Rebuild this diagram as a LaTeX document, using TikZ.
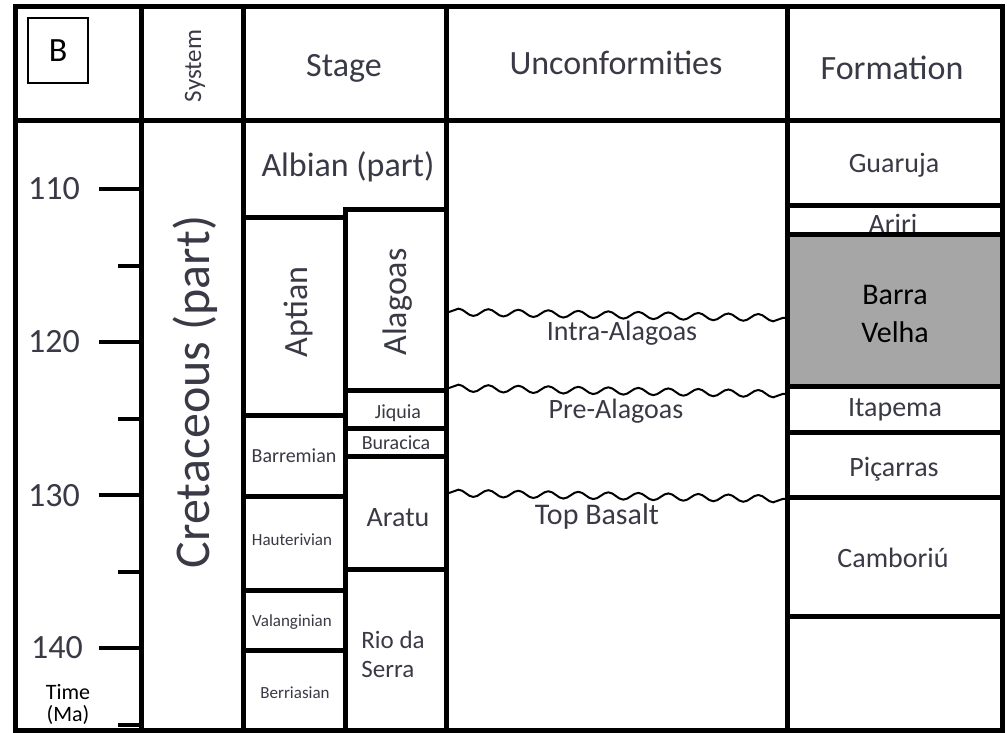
\documentclass[tikz,border=0pt]{standalone}
\usepackage{fontspec}
\setmainfont{Carlito}
\usetikzlibrary{decorations.pathmorphing}
\definecolor{txt}{RGB}{58,58,70}
\definecolor{bvgray}{RGB}{166,166,166}
\newcommand\myfs[1]{\fontsize{#1}{#1}\selectfont}
\begin{document}
\begin{tikzpicture}[x=1pt,y=-1pt,
  frame/.style={line width=5pt, line cap=rect},
  tickmark/.style={line width=4pt},
  wavy/.style={line width=2pt, decorate, decoration={snake, amplitude=3.5pt, segment length=30pt}},
  lab/.style={text=txt, inner sep=0pt, font=\myfs{#1}},
  lab/.default=34]
\useasboundingbox (0,0) rectangle (1007,733);
\fill[white] (0,0) rectangle (1007,733);
% grey formation
\fill[bvgray] (789,236) rectangle (1000,384);
% texts that lines may overlap
\node[lab=28] (ariri) at (893,223.5) {Ariri};
% outer frame and columns
\draw[frame] (15,7) rectangle (1002,730);
\draw[frame] (15,121) -- (1002,121);
\draw[frame] (141,7) -- (141,730);
\draw[frame] (243,7) -- (243,730);
\draw[frame] (446,7) -- (446,730);
\draw[frame] (787,7) -- (787,730);
% stage subdivisions
\draw[frame] (243,217) -- (345,217);
\draw[frame] (345,209) -- (446,209);
\draw[frame] (345,209) -- (345,730);
\foreach \yy in {415,496,590,650} \draw[frame] (243,\yy) -- (345,\yy);
\foreach \yy in {390,428,456,569} \draw[frame] (345,\yy) -- (446,\yy);
% formation subdivisions
\foreach \yy in {205,234,386,432,497,616} \draw[frame] (787,\yy) -- (1002,\yy);
% time ticks
\foreach \t in {110,120,130,140} \draw[tickmark] (99,{189+15.3*(\t-110)}) -- (141,{189+15.3*(\t-110)});
\foreach \t in {115,125,135,145} \draw[tickmark] (118,{189+15.3*(\t-110)}) -- (141,{189+15.3*(\t-110)});
\node[lab] (t110) at (54,189) {110};
\node[lab] (t120) at (54,342) {120};
\node[lab] (t130) at (54,496) {130};
\node[lab] (t140) at (57,648) {140};
\node[inner sep=0pt, align=center, font=\fontsize{22}{22}\selectfont] (time) at (68,704) {Time\\(Ma)};
% header
\node[draw, line width=1.3pt, minimum width=60pt, minimum height=65pt, inner sep=0pt, font=\myfs{34}] (bbox) at (58,50.5) {B};
\node[lab=25, rotate=90] (system) at (195,66) {System};
\node[lab] (stage) at (344,68) {Stage};
\node[lab] (unconf) at (616,63) {Unconformities};
\node[lab] (formation) at (892,68) {Formation};
% system
\node[lab=50, rotate=90] (cret) at (195,392) {Cretaceous (part)};
% stages
\node[lab] (albian) at (348,167) {Albian (part)};
\node[lab, rotate=90] (aptian) at (298,312) {Aptian};
\node[lab, rotate=90] (alagoas) at (398,302) {Alagoas};
\node[lab=20] (jiquia) at (398,413) {Jiquia};
\node[lab=20] (buracica) at (396,443) {Buracica};
\node[lab=20] (barremian) at (294,456) {Barremian};
\node[lab=17] (hauter) at (292,540) {Hauterivian};
\node[lab=17] (valang) at (292,622) {Valanginian};
\node[lab=17] (berrias) at (295,693) {Berriasian};
\node[lab=28] (aratu) at (398,518) {Aratu};
\node[text=txt, inner sep=0pt, align=left, font=\fontsize{25}{29}\selectfont] (rio) at (393,654) {Rio da\\Serra};
% unconformities
\draw[wavy] (449,312) -- (785,318);
\draw[wavy] (449,388) -- (785,394);
\draw[wavy] (449,493) -- (785,499);
\node[lab=28] (intra) at (622,333) {Intra-Alagoas};
\node[lab=28] (pre) at (616,411) {Pre-Alagoas};
\node[lab=30] (topbas) at (597,516) {Top Basalt};
% formations
\node[lab=28] (guaruja) at (894,165) {Guaruja};
\node[inner sep=0pt, align=center, font=\fontsize{30}{38}\selectfont] (barra) at (895,314) {Barra\\Velha};
\node[lab=28] (itapema) at (895,410) {Itapema};
\node[lab=28] (picarras) at (894,469) {Piçarras};
\node[lab=28] (camboriu) at (893,558) {Camboriú};
\end{tikzpicture}
\end{document}
